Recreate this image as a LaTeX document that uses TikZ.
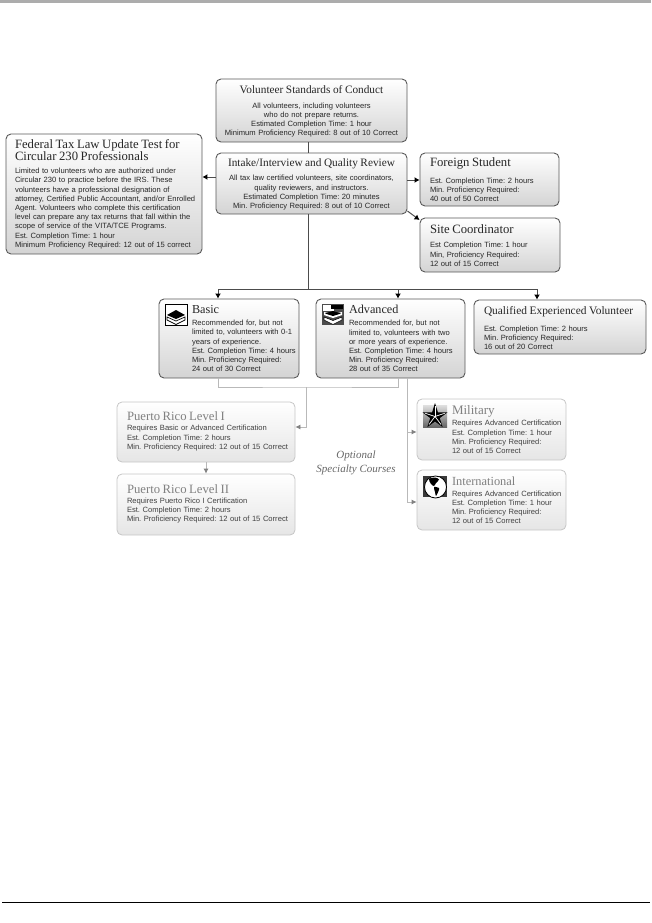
\documentclass[tikz,border=0pt]{standalone}
\usepackage{fontspec}
\setmainfont{Liberation Serif}
\setsansfont{Liberation Sans}
\usetikzlibrary{arrows.meta}

\newcommand{\hd}[2][12.7]{{\rmfamily\fontsize{#1}{14}\selectfont #2}}
\newcommand{\softhd}[2][12.7]{\textcolor{gray}{\hd[#1]{#2}}}
\newenvironment{lines}[1]{\begin{tabular}{@{\hspace{#1pt}}l@{}}}{\end{tabular}}
\newenvironment{midlines}{\begin{tabular}{@{}c@{}}}{\end{tabular}}
\frenchspacing

\begin{document}
\begin{tikzpicture}[
  x=1pt,y=-1pt,
  font=\sffamily\fontsize{7.6}{9.2}\selectfont\frenchspacing,
  card/.style 2 args={draw=gray!70!black,line width=0.9pt,top color=white,bottom color=gray!34,rounded corners=5pt,inner xsep=3pt,inner ysep=0pt,minimum width=#1pt,minimum height=#2pt,text width=#1pt-6pt,text=black!85,align=left},
  mid/.style={align=center},
  soft/.style={draw=gray!45,line width=0.8pt,top color=white,bottom color=gray!20,text=black!75},
  main/.style={draw=gray!60!black,line width=1pt},
  mainarrow/.style={main,-{Latex[length=5pt,width=6pt,color=black]}},
  light/.style={draw=gray!55,line width=0.8pt},
  lightarrow/.style={light,-{Latex[length=5pt,width=5pt,color=gray]}},
  bookicon/.pic={
    \draw[black,fill=white,line width=0.7pt] (0,0) rectangle (22,21);
    \fill[black] (2,11) -- (11,6) -- (20,11) -- (11,15) -- cycle;
    \draw[black,fill=white,line width=0.7pt] (2,13) -- (11,17) -- (20,13) -- (20,16) -- (11,20.5) -- (2,16) -- cycle;
  },
  booksicon/.pic={
    \fill[gray!60!black] (0,0) rectangle (22,21);
    \fill[white] (1,1) -- (12,1) -- (12,7) -- (1,7) -- cycle;
    \fill[black] (9,1) rectangle (21,5);
    \fill[white] (2,8) -- (11,10) -- (20,8) -- (20,11) -- (11,14) -- (2,11) -- cycle;
    \fill[black] (3,9.5) -- (11,7) -- (19,9.5) -- (11,12) -- cycle;
    \draw[black,fill=white,line width=0.6pt] (2,13) -- (11,16.5) -- (20,13) -- (20,16) -- (11,20.5) -- (2,16) -- cycle;
  },
  staricon/.pic={
    \shade[top color=gray!25,bottom color=gray!80!black] (0,0) rectangle (24,22);
    \fill[black] (12,-2) -- (14.94,7.45) -- (24.36,7.48) -- (16.76,13.05) -- (19.64,22.02) -- (12,16.5) -- (4.36,22.02) -- (7.24,13.05) -- (-0.36,7.48) -- (9.06,7.45) -- cycle;
    \foreach \tipx/\tipy in {12/1,22/8.2,18/19.5,6/19.5,2/8.2}
      \draw[white,line width=0.7pt] (12,11.5) -- (\tipx,\tipy);
  },
  globeicon/.pic={
    \fill[gray!45!black] (0,0) rectangle (24,21);
    \draw[black,fill=white,line width=0.8pt] (12.5,11) circle (11);
    \fill[black] plot[smooth cycle] coordinates {(6,3) (12,1.5) (16,3.5) (13,7) (11,10) (8,8)};
    \fill[black] plot[smooth cycle] coordinates {(11,11) (16,12) (15.5,15) (13,20) (12,16)};
  }
]
\useasboundingbox (0,0) rectangle (651,923);
\fill[gray!65] (0,0) rectangle (651,3);
\draw[black,line width=1pt] (2,902) -- (650,902);

% top row
\node[card={191}{63},mid] (volunteer) at (311.5,110.5) {\begin{midlines}\hd[11.3]{Volunteer Standards of Conduct}\\[6pt]All volunteers, including volunteers\\who do not prepare returns.\\Estimated Completion Time: 1 hour\\Minimum Proficiency Required: 8 out of 10 Correct\\[-3pt]\end{midlines}};
\node[card={191}{61},mid] (intake) at (311.5,183.5) {\begin{midlines}\hd[11.3]{Intake/Interview and Quality Review}\\[5pt]All tax law certified volunteers, site coordinators,\\quality reviewers, and instructors.\\Estimated Completion Time: 20 minutes\\Min. Proficiency Required: 8 out of 10 Correct\\[-3pt]\end{midlines}};
\node[card={196}{120}] (federal) at (104,194) {\begin{lines}{6}\hd{Federal Tax Law Update Test for}\\\hd{Circular 230 Professionals}\\[4pt]Limited to volunteers who are authorized under\\Circular 230 to practice before the IRS. These\\volunteers have a professional designation of\\attorney, Certified Public Accountant, and/or Enrolled\\Agent. Volunteers who complete this certification\\level can prepare any tax returns that fall within the\\scope of service of the VITA/TCE Programs.\\Est. Completion Time: 1 hour\\Minimum Proficiency Required: 12 out of 15 correct\\[-2pt]\end{lines}};
\node[card={139}{53}] (foreign) at (489.5,179.5) {\begin{lines}{7}\hd{Foreign Student}\\[8pt]Est. Completion Time: 2 hours\\Min. Proficiency Required:\\40 out of 50 Correct\\[-3pt]\end{lines}};
\node[card={140}{54}] (site) at (490,245) {\begin{lines}{7}\hd{Site Coordinator}\\[5pt]Est Completion Time: 1 hour\\Min, Proficiency Required:\\12 out of 15 Correct\\[-4pt]\end{lines}};

% certification row
\node[card={140}{79}] (basic) at (229,338.5) {\begin{lines}{30}\hd[12.2]{Basic}\\[3pt]Recommended for, but not\\limited to, volunteers with 0-1\\years of experience.\\Est. Completion Time: 4 hours\\Min. Proficiency Required:\\24 out of 30 Correct\\[-3pt]\end{lines}};
\node[card={149}{79}] (advanced) at (390.5,338.5) {\begin{lines}{30}\hd[12.2]{Advanced}\\[3pt]Recommended for, but not\\limited to, volunteers with two\\or more years of experience.\\Est. Completion Time: 4 hours\\Min. Proficiency Required:\\28 out of 35 Correct\\[-3pt]\end{lines}};
\node[card={172}{54}] (qualified) at (560,327) {\begin{lines}{7}\hd[11.4]{Qualified Experienced Volunteer}\\[8pt]Est. Completion Time: 2 hours\\Min. Proficiency Required:\\16 out of 20 Correct\\[-5pt]\end{lines}};

% optional courses
\node[card={178}{60},soft] (prone) at (206,432) {\begin{lines}{7}\softhd{Puerto Rico Level I}\\[1pt]Requires Basic or Advanced Certification\\Est. Completion Time: 2 hours\\Min. Proficiency Required: 12 out of 15 Correct\end{lines}};
\node[card={178}{61},soft] (prtwo) at (206,504.5) {\begin{lines}{7}\softhd{Puerto Rico Level II}\\[1pt]Requires Puerto Rico I Certification\\Est. Completion Time: 2 hours\\Min. Proficiency Required: 12 out of 15 Correct\end{lines}};
\node[card={149}{61},soft] (military) at (491.5,429.5) {\begin{lines}{32}\softhd[13]{Military}\\[2pt]Requires Advanced Certification\\Est. Completion Time: 1 hour\\Min. Proficiency Required:\\12 out of 15 Correct\\[-3pt]\end{lines}};
\node[card={149}{60},soft] (international) at (491.5,500) {\begin{lines}{32}\softhd[12.4]{International}\\[2pt]Requires Advanced Certification\\Est. Completion Time: 1 hour\\Min. Proficiency Required:\\12 out of 15 Correct\\[-3pt]\end{lines}};
\node[font=\rmfamily\itshape\fontsize{11}{14}\selectfont,text=gray!80!black,align=center] (optional) at (356,463) {Optional\\Specialty Courses};

% icons
\pic at (165,304) {bookicon};
\pic at (322,304) {booksicon};
\pic at (423,405) {staricon};
\pic at (423,476) {globeicon};

% main connectors
\coordinate (bus) at (308,289);
\draw[main] ([xshift=-3.5pt]volunteer.south) -- ([xshift=-3.5pt]intake.north);
\draw[main] ([xshift=-3.5pt]intake.south) -- (bus);
\draw[mainarrow] (bus) -| ([xshift=-11pt]basic.north);
\draw[mainarrow] (bus) -| ([xshift=7.5pt]advanced.north);
\draw[mainarrow] (bus) -| ([xshift=-23pt]qualified.north);
\draw[mainarrow] (intake.west |- 0,177) -- (federal.east |- 0,177);
\draw[mainarrow] (intake.east |- 0,180) -- (foreign.west |- 0,180);
\draw[mainarrow] (intake.east |- 0,211) -- (site.west |- 0,220);

% optional connectors
\coordinate (lowbus) at (306,387);
\draw[light] ([xshift=-11pt]basic.south) |- (lowbus) -| ([xshift=8pt]advanced.south);
\draw[lightarrow] (lowbus) |- (prone.east |- 0,427);
\draw[lightarrow] (prone.south) -- (prtwo.north);
\draw[lightarrow] ([xshift=16.5pt]advanced.south) |- (military.west |- 0,432);
\draw[lightarrow] ([xshift=16.5pt]advanced.south) |- (international.west |- 0,502);
\end{tikzpicture}
\end{document}
